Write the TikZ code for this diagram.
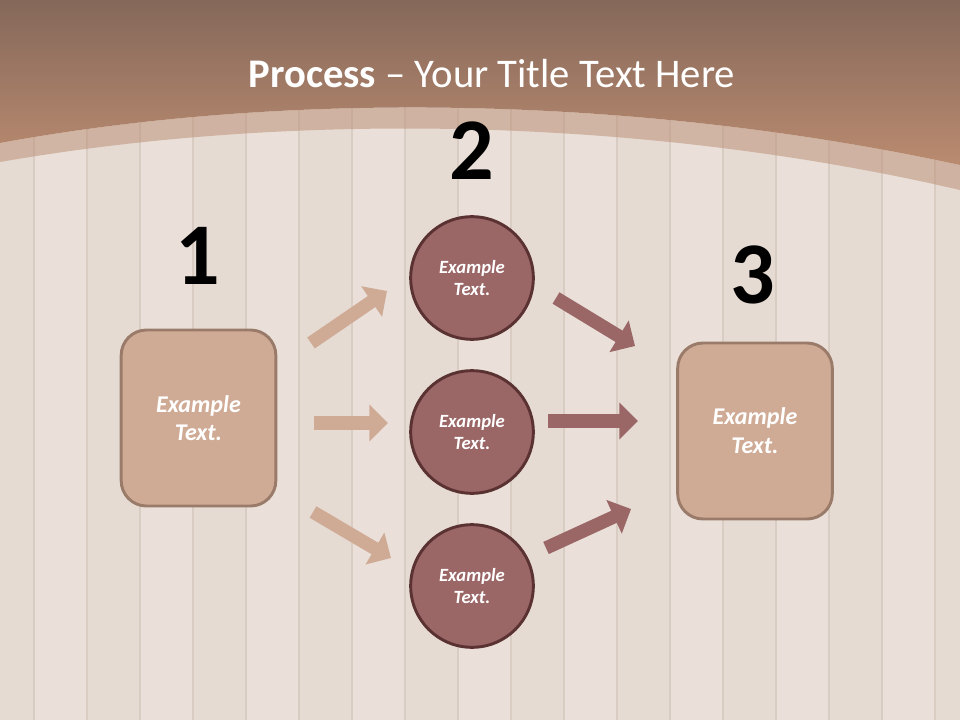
\documentclass[tikz,border=0pt]{standalone}
\usepackage{fontspec}
\setmainfont{Carlito}
\usetikzlibrary{arrows.meta}
\definecolor{wood}{HTML}{E8DDD5}
\definecolor{woodA}{HTML}{EAE0D9}
\definecolor{woodB}{HTML}{E6DBD3}
\definecolor{seam}{HTML}{D9CCC3}
\definecolor{hdtop}{HTML}{85685A}
\definecolor{hdbot}{HTML}{BA8B70}
\definecolor{tan}{HTML}{CFAB96}
\definecolor{tanline}{HTML}{9A7B69}
\definecolor{rose}{HTML}{9A6666}
\definecolor{roseline}{HTML}{5A3232}
\begin{document}
\begin{tikzpicture}[x=0.75pt,y=-0.75pt,
  box/.style={draw=tanline, fill=tan, line width=2.2pt, rounded corners=19pt,
    minimum width=116pt, minimum height=132pt, inner sep=0pt,
    font=\fontsize{18}{21.5}\selectfont\bfseries\itshape, text=white, align=center},
  disc/.style={circle, draw=roseline, fill=rose, line width=2.2pt,
    minimum size=92pt, inner sep=0pt,
    font=\fontsize{14}{17}\selectfont\bfseries\itshape, text=white, align=center},
  numlabel/.style={inner sep=0pt, font=\fontsize{66}{66}\selectfont\bfseries, text=black},
  lightarrow/.style={draw=tan, line width=10pt, -{Triangle[length=14pt,width=27pt]}},
  darkarrow/.style={draw=rose, line width=10pt, -{Triangle[length=14pt,width=27pt]}}]
\useasboundingbox (0,0) rectangle (960,720);
% wood background
\fill[wood] (0,0) rectangle (960,720);
\foreach \x [count=\i] in {-19,34,87,140,193,246,299,352,405,458,511,564,617,670,723,776,829,882,935}{
  \pgfmathparse{mod(\i,2)==0 ? 1 : 0}
  \ifnum\pgfmathresult=1
    \fill[woodA] (\x,0) rectangle ++(53,720);
  \else
    \fill[woodB] (\x,0) rectangle ++(53,720);
  \fi
  \draw[seam, line width=0.8pt] (\x,0) -- (\x,720);
}
% header
\shade[top color=hdtop, bottom color=hdbot]
  (0,0) -- (960,0) -- (960,165) .. controls (650,98) and (300,88) .. (0,143) -- cycle;
\fill[hdbot, opacity=0.5]
  (0,143) .. controls (300,88) and (650,98) .. (960,165) -- (960,190)
  .. controls (650,118) and (300,110) .. (0,162) -- cycle;
% title
\node[text=white, font=\fontsize{30.5}{32}\selectfont] (title) at (492,74)
  {\textbf{Process} -- Your Title Text Here};
% numbers
\node[numlabel] (n1) at (198,256) {1};
\node[numlabel] (n2) at (472,151) {2};
\node[numlabel] (n3) at (753,275) {3};
% boxes and discs
\node[box] (b1) at (198.5,418) {Example\\Text.};
\node[box] (b3) at (755,431) {Example\\Text.};
\node[disc] (c1) at (472,278) {Example\\Text.};
\node[disc] (c2) at (472,432) {Example\\Text.};
\node[disc] (c3) at (472,586) {Example\\Text.};
% arrow end points
\coordinate (l1s) at (311,343); \coordinate (l1e) at (387,291);
\coordinate (l2s) at (314,423); \coordinate (l2e) at (388,423);
\coordinate (l3s) at (313,512); \coordinate (l3e) at (391,558);
\coordinate (r1s) at (556,298); \coordinate (r1e) at (635,346);
\coordinate (r2s) at (548,421); \coordinate (r2e) at (638,421);
\coordinate (r3s) at (546,548); \coordinate (r3e) at (631,509);
\draw[lightarrow] (l1s) -- (l1e);
\draw[lightarrow] (l2s) -- (l2e);
\draw[lightarrow] (l3s) -- (l3e);
\draw[darkarrow] (r1s) -- (r1e);
\draw[darkarrow] (r2s) -- (r2e);
\draw[darkarrow] (r3s) -- (r3e);
\end{tikzpicture}
\end{document}
